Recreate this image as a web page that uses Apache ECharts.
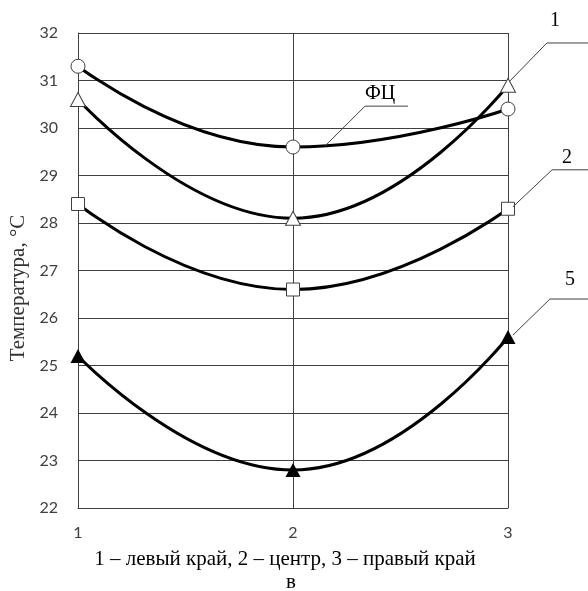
<!DOCTYPE html>
<html>
<head>
<meta charset="utf-8">
<script src="https://cdn.jsdelivr.net/npm/echarts@6/dist/echarts.min.js"></script>
<style>html,body{margin:0;padding:0;background:#fff;}#c{width:588px;height:591px;}</style>
</head>
<body>
<div id="c"></div>
<script>
const positions = [1, 2, 3];
const xTickLabels = ['1', '2', '3'];
const seriesFC = [31.3, 29.6, 30.4];
const series1 = [30.6, 28.1, 30.9];
const series2 = [28.4, 26.6, 28.3];
const series5 = [25.2, 22.8, 25.6];
const yTicks = [22, 23, 24, 25, 26, 27, 28, 29, 30, 31, 32];
const xTitle = '1 – левый край, 2 – центр, 3 – правый край';
const subTitle = 'в';
const yTitle = 'Температура, °C';

// callout annotations in data units: [start, elbow, end, text]
const callouts = [
  {text: 'ФЦ', start: [2.149, 29.62], elbow: [2.335, 30.46], end: [2.535, 30.46], pos: [2.405, 30.72]},
  {text: '1', start: [3.009, 30.99], elbow: [3.181, 31.79], end: [3.38, 31.79], pos: [3.219, 32.25]},
  {text: '2', start: [3.023, 28.34], elbow: [3.205, 29.12], end: [3.38, 29.12], pos: [3.274, 29.37]},
  {text: '5', start: [3.023, 25.64], elbow: [3.195, 26.40], end: [3.38, 26.40], pos: [3.288, 26.80]}
];

const pair = (vals) => positions.map((x, i) => [x, vals[i]]);
const lineStyle = {color: '#000', width: 3};
const openItem = {color: '#fff', borderColor: '#404040', borderWidth: 1};

const chart = echarts.init(document.getElementById('c'));
chart.setOption({
  animation: false,
  backgroundColor: '#fff',
  grid: {left: 78, right: 80, top: 33, bottom: 83},
  xAxis: {
    type: 'value', min: 1, max: 3, interval: 1,
    axisLine: {show: true, lineStyle: {color: '#404040', width: 1}},
    axisTick: {show: false},
    splitLine: {show: true, lineStyle: {color: '#404040', width: 1}},
    axisLabel: {
      margin: 17, color: '#404040', fontFamily: 'Lato', fontSize: 16,
      formatter: (v) => xTickLabels[positions.indexOf(v)] || ''
    }
  },
  yAxis: {
    type: 'value', min: yTicks[0], max: yTicks[yTicks.length - 1], interval: 1,
    axisLine: {show: true, lineStyle: {color: '#404040', width: 1}},
    axisTick: {show: false},
    splitLine: {show: true, lineStyle: {color: '#404040', width: 1}},
    axisLabel: {margin: 20, color: '#404040', fontFamily: 'Lato', fontSize: 16}
  },
  series: [
    {name: 'ФЦ', type: 'line', smooth: 0.5, data: pair(seriesFC), lineStyle,
     symbol: 'circle', symbolSize: 14, itemStyle: openItem, z: 3},
    {name: '1', type: 'line', smooth: 0.5, data: pair(series1), lineStyle,
     symbol: 'triangle', symbolSize: [15, 14], itemStyle: openItem, z: 3},
    {name: '2', type: 'line', smooth: 0.5, data: pair(series2), lineStyle,
     symbol: 'rect', symbolSize: 13, itemStyle: openItem, z: 3},
    {name: '5', type: 'line', smooth: 0.5, data: pair(series5), lineStyle,
     symbol: 'triangle', symbolSize: [15, 14], itemStyle: {color: '#000'}, z: 3}
  ]
});

const px = (p) => chart.convertToPixel({gridIndex: 0}, p);
const graphics = [];
callouts.forEach(c => {
  graphics.push({type: 'polyline', silent: true, z: 10,
    shape: {points: [px(c.start), px(c.elbow), px(c.end)]},
    style: {stroke: '#404040', lineWidth: 1, fill: null}});
  const t = px(c.pos);
  graphics.push({type: 'text', x: t[0], y: t[1], z: 10,
    style: {text: c.text, font: '20px "Liberation Serif"', fill: '#000', align: 'center', verticalAlign: 'middle'}});
});
graphics.push({type: 'text', x: 285, y: 559,
  style: {text: xTitle, font: '21px "Liberation Serif"', fill: '#000', align: 'center', verticalAlign: 'middle'}});
graphics.push({type: 'text', x: 291, y: 582,
  style: {text: subTitle, font: '21px "Liberation Serif"', fill: '#000', align: 'center', verticalAlign: 'middle'}});
graphics.push({type: 'text', x: 18, y: 288, rotation: Math.PI / 2,
  style: {text: yTitle, font: '21px "Liberation Serif"', fill: '#333', align: 'center', verticalAlign: 'middle'}});
chart.setOption({graphic: graphics});
</script>
</body>
</html>
